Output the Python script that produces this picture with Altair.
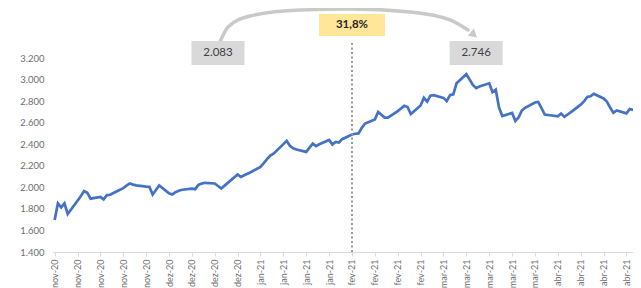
import altair as alt
import pandas as pd

# ---- data -------------------------------------------------------------
dates = pd.bdate_range("2020-11-02", "2021-04-30")
values = [
    1696, 1851, 1814, 1851, 1752,
    1876, 1918, 1965, 1949, 1895,
    1912, 1888, 1928, 1931, 1947,
    1993, 2015, 2036, 2025, 2018,
    2007, 2005, 1934, 1975, 2018,
    1945, 1934, 1955, 1968, 1978,
    1988, 1983, 2022, 2035, 2042,
    2036, 2012, 1990, 2016, 2041,
    2119, 2097, 2112, 2126, 2140,
    2190, 2225, 2262, 2294, 2313,
    2401, 2431, 2385, 2362, 2351,
    2329, 2368, 2406, 2383, 2400,
    2440, 2397, 2421, 2416, 2447,
    2490, 2497, 2500, 2552, 2592,
    2630, 2700, 2673, 2647, 2647,
    2707, 2732, 2756, 2745, 2680,
    2760, 2830, 2795, 2850, 2855,
    2830, 2800, 2855, 2863, 2965,
    3050, 3000, 2950, 2920, 2935,
    2965, 2884, 2906, 2740, 2662,
    2690, 2616, 2650, 2714, 2738,
    2787, 2792, 2735, 2675, 2671,
    2659, 2685, 2654, 2676, 2698,
    2767, 2797, 2838, 2845, 2868,
    2825, 2795, 2740, 2692, 2713,
    2686, 2727, 2718, 2720, 2746,
]
tick_dates = pd.date_range("2020-11-02", periods=26, freq="7D")
y_ticks = [1400, 1600, 1800, 2000, 2200, 2400, 2600, 2800, 3000, 3200]
months_pt = ["jan", "fev", "mar", "abr", "mai", "jun",
             "jul", "ago", "set", "out", "nov", "dez"]

# annotations (in data space)
box_dates = ["2020-12-22T00:00:00", "2021-03-11T00:00:00"]
box_values = [3246, 3246]
box_labels = ["2.083", "2.746"]
pct_date = ["2021-02-01T00:00:00"]
pct_value = [3506]
pct_label = ["31,8%"]
rule_date = ["2021-02-01T00:00:00"]
rule_from = [1400]
rule_to = [3346]
arc_dates = ["2020-12-22T14:00:00", "2020-12-25T02:00:00", "2020-12-31T19:00:00",
             "2021-01-16T03:00:00", "2021-01-31T10:00:00", "2021-02-18T19:00:00",
             "2021-03-03T00:00:00", "2021-03-08T12:00:00"]
arc_values = [3348, 3488, 3590, 3645, 3655, 3627, 3553, 3460]
arrow_date = ["2021-03-10T00:00:00"]
arrow_value = [3423]

# ---- frames -----------------------------------------------------------
df = pd.DataFrame({"date": dates.strftime("%Y-%m-%dT%H:%M:%S"), "value": values})
boxes = pd.DataFrame({"date": box_dates, "value": box_values, "label": box_labels})
pct = pd.DataFrame({"date": pct_date, "value": pct_value, "label": pct_label})
rule = pd.DataFrame({"date": rule_date, "value": rule_from, "value2": rule_to})
arc = pd.DataFrame({"date": arc_dates, "value": arc_values})
arrow = pd.DataFrame({"date": arrow_date, "value": arrow_value})

FONT = "Lato"
GREY = "#6f6f6f"

def dt(ts):
    return alt.DateTime(year=ts.year, month=ts.month, date=ts.day)

label_expr = ("[" + ",".join("'%s'" % m for m in months_pt) + "][month(datum.value)]"
              " + '-' + timeFormat(datum.value, '%y')")

# the visible window ends a little before the last trading day (as in the source crop)
x_scale = alt.Scale(domain=[alt.DateTime(year=2020, month=11, date=1, hours=12),
                            alt.DateTime(year=2021, month=4, date=28)],
                    nice=False)
y_scale = alt.Scale(domain=[1400, 3200], nice=False, zero=False)

x_axis = alt.Axis(values=[dt(t) for t in tick_dates], labelExpr=label_expr,
                  labelAngle=270, labelFont=FONT, labelFontSize=9, labelColor=GREY,
                  labelPadding=3, domainColor="#d9d9d9", tickColor="#d9d9d9",
                  tickSize=4, grid=False, title=None, labelOverlap=False)
y_axis = alt.Axis(values=y_ticks,
                  labelExpr="replace(format(datum.value, ','), ',', '.')",
                  labelFont=FONT, labelFontSize=9.5, labelColor=GREY,
                  labelPadding=9, domain=False, ticks=False, grid=False, title=None)

X = lambda: alt.X("date:T", scale=x_scale, axis=x_axis)
Y = lambda: alt.Y("value:Q", scale=y_scale, axis=y_axis)

line = alt.Chart(df).mark_line(color="#4472C4", strokeWidth=2.7).encode(
    x=X(), y=Y())

vrule = alt.Chart(rule).mark_rule(color="#9a9a9a", strokeWidth=2,
                                  strokeDash=[2, 2.5]).encode(
    x=X(), y=Y(), y2="value2:Q")

arc_line = alt.Chart(arc).mark_line(color="#c9c9c9", strokeWidth=3.5,
                                    interpolate="monotone", strokeCap="round").encode(
    x=X(), y=Y())

arrow_head = alt.Chart(arrow).mark_point(shape="triangle", filled=True,
                                         color="#c9c9c9", size=90, angle=130,
                                         opacity=1).encode(x=X(), y=Y())

box_rect = alt.Chart(boxes).mark_rect(width=53, height=24, color="#d9d9d9").encode(
    x=X(), y=Y())
box_text = alt.Chart(boxes).mark_text(font=FONT, fontSize=11.5, color="#404040").encode(
    x=X(), y=Y(), text="label:N")

pct_rect = alt.Chart(pct).mark_rect(width=66, height=22, color="#ffe699").encode(
    x=X(), y=Y())
pct_text = alt.Chart(pct).mark_text(font=FONT, fontSize=11.5, fontWeight="bold",
                                    color="#262626").encode(
    x=X(), y=Y(), text="label:N")

chart = alt.layer(
    line, vrule, arc_line, arrow_head, box_rect, box_text, pct_rect, pct_text
).properties(
    width=580, height=194,
    padding={"left": 45, "top": 50, "right": 0, "bottom": 36},
    autosize=alt.AutoSizeParams(type="none"),
    background="white",
).configure_view(stroke=None)

chart.save("out.html", embed_options={"renderer": "svg", "actions": False})
